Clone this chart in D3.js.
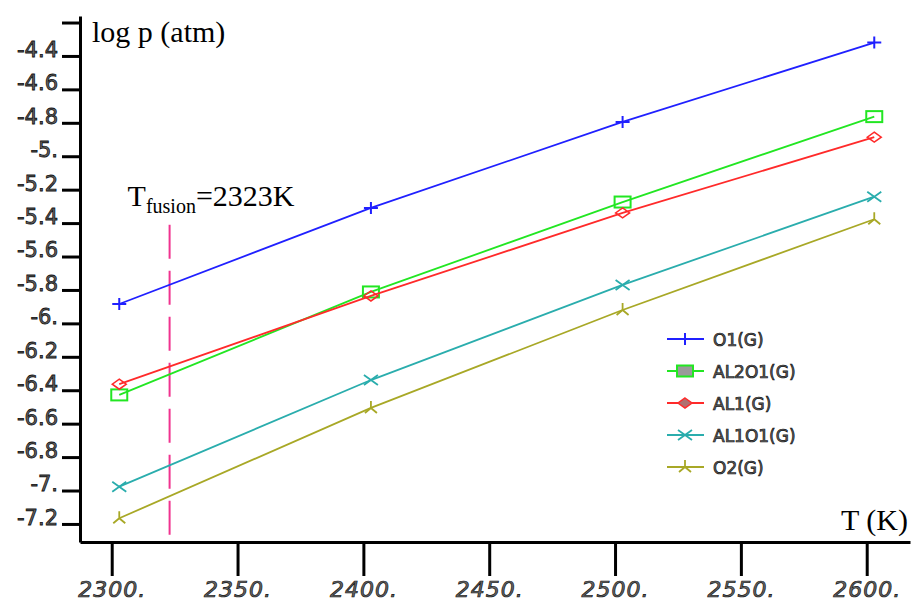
<!DOCTYPE html>
<html><head><meta charset="utf-8">
<script src="https://cdn.jsdelivr.net/npm/d3@7"></script>
<style>html,body{margin:0;padding:0;background:#fff;}svg{display:block;}</style>
</head><body>
<svg id="chart" width="912" height="603"></svg>
<script>
// ---- data ----
const temps = [2303, 2403, 2503, 2603];
const seriesNames = ["O1(G)", "AL2O1(G)", "AL1(G)", "AL1O1(G)", "O2(G)"];
const o1    = [-5.884, -5.309, -4.795, -4.320];
const al2o1 = [-6.428, -5.812, -5.274, -4.763];
const al1   = [-6.364, -5.836, -5.339, -4.886];
const al1o1 = [-6.977, -6.339, -5.770, -5.242];
const o2    = [-7.166, -6.506, -5.920, -5.377];
const xTicks = [2300, 2350, 2400, 2450, 2500, 2550, 2600];
const xTickLabels = ["2300.", "2350.", "2400.", "2450.", "2500.", "2550.", "2600."];
const yTicks = [-7.2, -7.0, -6.8, -6.6, -6.4, -6.2, -6.0, -5.8, -5.6, -5.4, -5.2, -5.0, -4.8, -4.6, -4.4, -4.2];
const yTickLabels = ["-7.2", "-7.", "-6.8", "-6.6", "-6.4", "-6.2", "-6.", "-5.8", "-5.6", "-5.4", "-5.2", "-5.", "-4.8", "-4.6", "-4.4", ""];
const tFusion = 2323;
const fusionRange = [-7.30, -5.41];

// ---- styles ----
const colors = ["#2020ff", "#22e622", "#ff2a2a", "#2aadad", "#a8a826"];
const markers = ["plus", "square", "diamond", "cross", "tri"];
const allSeries = [o1, al2o1, al1, al1o1, o2];

const svg = d3.select("#chart");
const x = d3.scaleLinear().domain([2287.4, 2617.2]).range([80, 910]);
const y = d3.scaleLinear().domain([-7.308, -4.161]).range([542, 16]);

// axes
const yAxis = d3.axisLeft(y).tickValues(yTicks).tickSize(18).tickSizeOuter(0).tickPadding(4)
  .tickFormat((d, i) => yTickLabels[i]);
const gy = svg.append("g").attr("transform", "translate(80,0)").call(yAxis);
gy.select(".domain").attr("stroke-width", 3).attr("stroke", "#000");
gy.selectAll(".tick line").attr("stroke-width", 3).attr("stroke", "#000");
gy.selectAll(".tick text").attr("dy", "0.02em").attr("font-family", "DejaVu Sans, Liberation Sans, sans-serif")
  .attr("font-size", 21).attr("fill", "#666").attr("stroke", "#111").attr("stroke-width", 0.8);

const xAxis = d3.axisBottom(x).tickValues(xTicks).tickSize(34).tickSizeOuter(0).tickPadding(5)
  .tickFormat((d, i) => xTickLabels[i]);
const gx = svg.append("g").attr("transform", "translate(0,542)").call(xAxis);
gx.select(".domain").attr("stroke-width", 3).attr("stroke", "#000");
gx.selectAll(".tick line").attr("stroke-width", 3).attr("stroke", "#000");
gx.selectAll(".tick text").attr("dy", "0.72em").attr("font-family", "DejaVu Sans, Liberation Sans, sans-serif")
  .attr("font-style", "italic").attr("font-size", 22).attr("letter-spacing", 1)
  .attr("fill", "#666").attr("stroke", "#111").attr("stroke-width", 0.7);

// titles
svg.append("text").attr("x", 92).attr("y", 42).attr("font-family", "Liberation Serif")
  .attr("font-size", 30).attr("fill", "#000").text("log p (atm)");
svg.append("text").attr("x", 908).attr("y", 530).attr("text-anchor", "end")
  .attr("font-family", "Liberation Serif").attr("font-size", 30).attr("fill", "#000").text("T (K)");

// fusion line
svg.append("line").attr("x1", x(tFusion)).attr("x2", x(tFusion))
  .attr("y1", y(fusionRange[1])).attr("y2", y(fusionRange[0]))
  .attr("stroke", "#f0338f").attr("stroke-width", 2).attr("stroke-dasharray", "34,12");
const ft = svg.append("text").attr("x", x(tFusion) - 42).attr("y", 206)
  .attr("font-family", "Liberation Serif").attr("font-size", 30).attr("fill", "#000");
ft.append("tspan").text("T");
ft.append("tspan").attr("font-size", 20).attr("dy", 7).text("fusion");
ft.append("tspan").attr("dy", -7).text("=2323K");

// marker drawing
function drawMarker(g, type, color, legend) {
  if (type === "plus") {
    g.append("path").attr("d", "M-7,0H7M0,-6V6").attr("stroke", color).attr("stroke-width", 2).attr("fill", "none");
  } else if (type === "square") {
    g.append("rect").attr("x", -8).attr("y", -5.5).attr("width", 16).attr("height", 11)
      .attr("fill", legend ? "#9a9a9a" : "none").attr("stroke", color).attr("stroke-width", 2);
  } else if (type === "diamond") {
    g.append("path").attr("d", "M0,-5L7,0L0,5L-7,0Z").attr("fill", legend ? "#b07070" : "none")
      .attr("stroke", color).attr("stroke-width", 1.5);
  } else if (type === "cross") {
    g.append("path").attr("d", "M-7,-5L7,5M-7,5L7,-5").attr("stroke", color).attr("stroke-width", 1.8).attr("fill", "none");
  } else {
    g.append("path").attr("d", "M0,0V-7M0,0L-6,5M0,0L6,5").attr("stroke", color).attr("stroke-width", 1.8).attr("fill", "none");
  }
}

// series
const line = d3.line().x((d, i) => x(temps[i])).y(d => y(d));
allSeries.forEach((vals, s) => {
  svg.append("path").datum(vals).attr("d", line).attr("fill", "none")
    .attr("stroke", colors[s]).attr("stroke-width", 1.8);
  vals.forEach((v, i) => {
    const g = svg.append("g").attr("transform", `translate(${x(temps[i])},${y(v)})`);
    drawMarker(g, markers[s], colors[s], false);
  });
});

// legend
const lg = svg.append("g").attr("transform", "translate(667,339)");
seriesNames.forEach((name, s) => {
  const row = lg.append("g").attr("transform", `translate(0,${s * 32})`);
  row.append("line").attr("x1", 0).attr("x2", 37).attr("y1", 0).attr("y2", 0)
    .attr("stroke", colors[s]).attr("stroke-width", 2);
  const m = row.append("g").attr("transform", "translate(18,0)");
  drawMarker(m, markers[s], colors[s], true);
  row.append("text").attr("x", 46).attr("y", 7).attr("font-family", "DejaVu Sans, Liberation Sans, sans-serif")
    .attr("font-size", 17).attr("fill", "#666").attr("stroke", "#111").attr("stroke-width", 0.7).text(name);
});
</script>
</body></html>
